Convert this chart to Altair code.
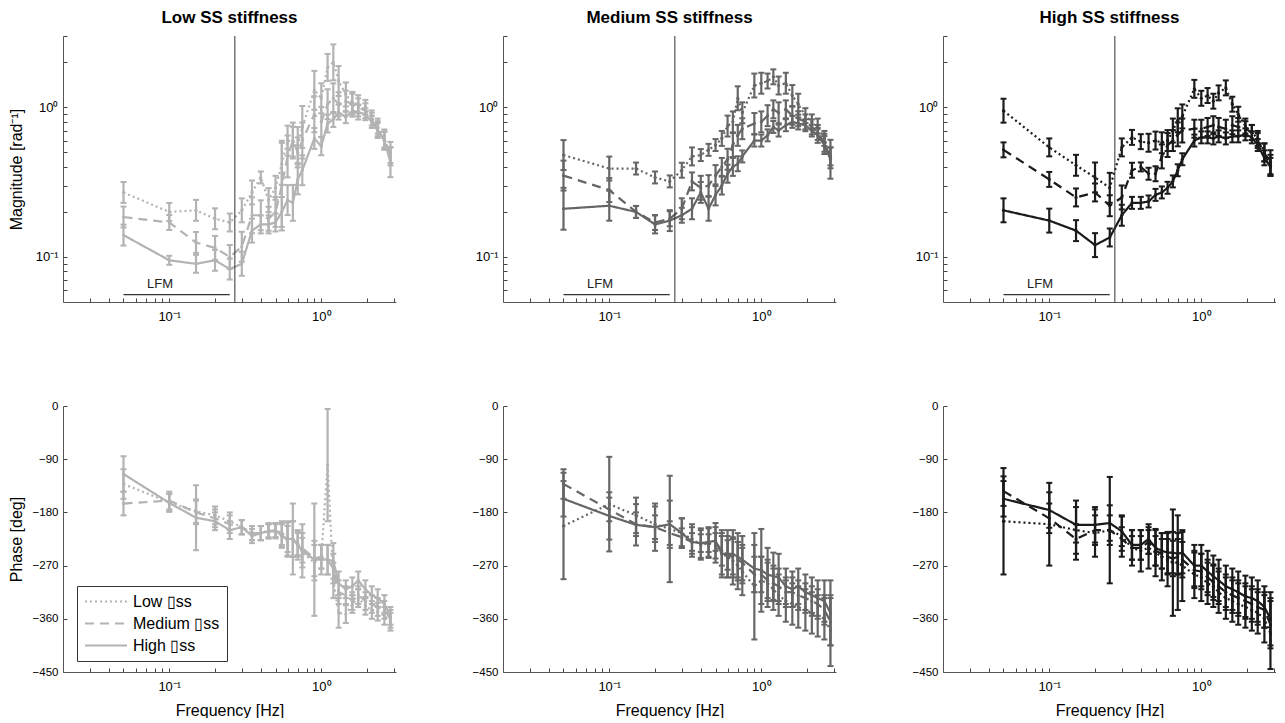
import altair as alt
import pandas as pd

# ---------------- data ----------------
FREQ = [0.05, 0.1, 0.15, 0.2, 0.25, 0.3, 0.35, 0.4, 0.45, 0.5, 0.55, 0.6, 0.65, 0.7, 0.75,
        0.9, 1.0, 1.1, 1.2, 1.3, 1.45, 1.6, 1.75, 1.95, 2.15, 2.35, 2.6, 2.85]
SERIES = ["Low \u25afss", "Medium \u25afss", "High \u25afss"]
PANEL_TITLES = ["Low SS stiffness", "Medium SS stiffness", "High SS stiffness"]
PANEL_COLORS = ["#b3b3b3", "#666666", "#1a1a1a"]

X_TICKS = [0.03, 0.04, 0.05, 0.06, 0.07, 0.08, 0.09, 0.1, 0.2, 0.3, 0.4, 0.5, 0.6, 0.7,
           0.8, 0.9, 1.0, 2.0, 3.0]
MAG_TICKS = [0.06, 0.07, 0.08, 0.09, 0.1, 0.2, 0.3, 0.4, 0.5, 0.6, 0.7, 0.8, 0.9, 1.0, 2.0, 3.0]
PHASE_TICKS = [0, -90, -180, -270, -360, -450]
X_DOMAIN = [0.02, 3.1]
MAG_DOMAIN = [0.05, 3.0]
PHASE_DOMAIN = [-450, 0]
VLINE_FREQ = [0.27]
LFM_START = [0.05]
LFM_END = [0.25]
LFM_LEVEL = [0.056]
LFM_TEXT_FREQ = [0.087]
LFM_TEXT_LEVEL = [0.066]
LFM_TEXT = ["LFM"]

# magnitude means (rad^-1) and log10 half-widths of error bars
MAG1_LOW = [0.27, 0.20, 0.205, 0.18, 0.17, 0.205, 0.27, 0.34, 0.24, 0.29, 0.42, 0.60, 0.59, 0.56, 0.74, 1.30, 1.15, 1.85, 2.00, 1.50, 1.22, 1.08, 1.05, 1.00, 0.85, 0.75, 0.62, 0.47]
MAG1_MED = [0.185, 0.17, 0.125, 0.115, 0.10, 0.117, 0.19, 0.19, 0.18, 0.20, 0.30, 0.47, 0.60, 0.50, 0.60, 0.90, 0.80, 1.05, 1.15, 1.05, 1.10, 1.05, 1.00, 0.95, 0.82, 0.72, 0.60, 0.50]
MAG1_HIGH = [0.14, 0.095, 0.09, 0.095, 0.083, 0.09, 0.15, 0.165, 0.165, 0.17, 0.20, 0.24, 0.23, 0.33, 0.38, 0.62, 0.55, 0.78, 0.83, 0.93, 0.86, 0.95, 0.93, 0.90, 0.80, 0.70, 0.60, 0.43]
MAG1_LOW_ERR = [0.07, 0.06, 0.07, 0.07, 0.06, 0.08, 0.08, 0.04, 0.08, 0.08, 0.14, 0.10, 0.10, 0.12, 0.14, 0.13, 0.10, 0.09, 0.12, 0.10, 0.08, 0.07, 0.06, 0.05, 0.05, 0.05, 0.06, 0.06]
MAG1_MED_ERR = [0.07, 0.05, 0.07, 0.08, 0.08, 0.10, 0.12, 0.10, 0.08, 0.10, 0.30, 0.14, 0.12, 0.10, 0.12, 0.12, 0.10, 0.10, 0.10, 0.08, 0.07, 0.07, 0.06, 0.05, 0.05, 0.05, 0.06, 0.07]
MAG1_HIGH_ERR = [0.07, 0.03, 0.06, 0.07, 0.07, 0.08, 0.08, 0.06, 0.06, 0.06, 0.10, 0.10, 0.12, 0.10, 0.10, 0.07, 0.06, 0.06, 0.05, 0.05, 0.04, 0.04, 0.05, 0.04, 0.04, 0.05, 0.06, 0.10]

MAG2_LOW = [0.48, 0.39, 0.39, 0.34, 0.32, 0.38, 0.47, 0.48, 0.52, 0.56, 0.62, 0.75, 0.80, 1.15, 0.92, 1.40, 1.45, 1.50, 1.60, 1.40, 1.45, 1.20, 1.05, 0.88, 0.80, 0.75, 0.62, 0.47]
MAG2_MED = [0.35, 0.28, 0.20, 0.17, 0.18, 0.21, 0.32, 0.29, 0.30, 0.35, 0.40, 0.45, 0.56, 0.65, 0.72, 0.78, 0.80, 0.88, 0.97, 0.92, 0.97, 0.88, 0.84, 0.80, 0.74, 0.68, 0.58, 0.46]
MAG2_HIGH = [0.21, 0.22, 0.20, 0.165, 0.175, 0.19, 0.21, 0.27, 0.21, 0.26, 0.30, 0.36, 0.40, 0.42, 0.47, 0.60, 0.60, 0.65, 0.74, 0.70, 0.76, 0.80, 0.78, 0.76, 0.70, 0.65, 0.56, 0.45]
MAG2_LOW_ERR = [0.10, 0.08, 0.04, 0.04, 0.04, 0.05, 0.06, 0.04, 0.04, 0.04, 0.05, 0.07, 0.07, 0.08, 0.07, 0.08, 0.07, 0.05, 0.05, 0.06, 0.07, 0.07, 0.07, 0.05, 0.05, 0.05, 0.05, 0.06]
MAG2_MED_ERR = [0.10, 0.08, 0.04, 0.05, 0.05, 0.07, 0.06, 0.08, 0.07, 0.07, 0.06, 0.07, 0.08, 0.07, 0.07, 0.07, 0.07, 0.07, 0.06, 0.07, 0.06, 0.06, 0.05, 0.05, 0.05, 0.05, 0.06, 0.07]
MAG2_HIGH_ERR = [0.14, 0.10, 0.04, 0.06, 0.07, 0.05, 0.07, 0.07, 0.08, 0.07, 0.06, 0.06, 0.06, 0.05, 0.04, 0.04, 0.04, 0.04, 0.04, 0.04, 0.04, 0.04, 0.04, 0.04, 0.04, 0.05, 0.06, 0.13]

MAG3_LOW = [0.95, 0.54, 0.41, 0.34, 0.29, 0.54, 0.63, 0.59, 0.58, 0.60, 0.58, 0.60, 0.70, 0.82, 0.87, 1.33, 1.15, 1.20, 1.10, 1.25, 1.35, 1.05, 0.90, 0.75, 0.68, 0.62, 0.50, 0.43]
MAG3_MED = [0.52, 0.33, 0.25, 0.27, 0.22, 0.25, 0.38, 0.40, 0.36, 0.36, 0.47, 0.56, 0.60, 0.66, 0.70, 0.72, 0.72, 0.74, 0.76, 0.74, 0.72, 0.76, 0.74, 0.72, 0.68, 0.60, 0.50, 0.41]
MAG3_HIGH = [0.205, 0.175, 0.15, 0.12, 0.135, 0.19, 0.23, 0.23, 0.235, 0.26, 0.27, 0.29, 0.32, 0.38, 0.45, 0.60, 0.63, 0.63, 0.62, 0.64, 0.62, 0.64, 0.64, 0.66, 0.63, 0.56, 0.46, 0.40]
MAG3_LOW_ERR = [0.08, 0.06, 0.07, 0.10, 0.10, 0.06, 0.05, 0.05, 0.06, 0.06, 0.07, 0.07, 0.08, 0.08, 0.08, 0.06, 0.05, 0.05, 0.05, 0.05, 0.05, 0.05, 0.05, 0.05, 0.05, 0.05, 0.06, 0.08]
MAG3_MED_ERR = [0.05, 0.05, 0.06, 0.06, 0.07, 0.08, 0.05, 0.03, 0.04, 0.05, 0.08, 0.08, 0.07, 0.08, 0.08, 0.06, 0.06, 0.06, 0.06, 0.06, 0.06, 0.06, 0.06, 0.05, 0.05, 0.05, 0.06, 0.07]
MAG3_HIGH_ERR = [0.08, 0.08, 0.07, 0.08, 0.06, 0.07, 0.04, 0.04, 0.04, 0.04, 0.04, 0.04, 0.04, 0.04, 0.04, 0.04, 0.04, 0.04, 0.04, 0.04, 0.04, 0.04, 0.04, 0.04, 0.04, 0.04, 0.05, 0.06]

# phase means (deg) and half-widths of error bars (deg)
PH1_LOW = [-132, -163, -178, -185, -195, -205, -215, -215, -210, -210, -215, -222, -225, -232, -248, -265, -255, -100, -295, -350, -352, -335, -325, -338, -345, -348, -355, -365]
PH1_MED = [-165, -160, -180, -190, -200, -205, -215, -215, -212, -212, -218, -228, -225, -235, -240, -258, -255, -260, -275, -315, -320, -330, -320, -330, -335, -340, -345, -360]
PH1_HIGH = [-115, -164, -189, -195, -210, -205, -220, -215, -212, -210, -220, -225, -225, -235, -245, -260, -260, -260, -262, -300, -310, -305, -295, -310, -320, -325, -335, -355]
PH1_LOW_ERR = [25, 15, 20, 15, 15, 12, 12, 12, 12, 12, 20, 25, 30, 20, 25, 30, 20, 95, 30, 25, 15, 15, 15, 15, 15, 15, 15, 15]
PH1_MED_ERR = [20, 15, 20, 15, 15, 12, 12, 12, 12, 12, 20, 25, 30, 20, 25, 30, 20, 25, 25, 20, 15, 15, 15, 15, 15, 15, 15, 15]
PH1_HIGH_ERR = [30, 15, 55, 15, 15, 12, 12, 12, 12, 12, 20, 30, 60, 25, 45, 95, 25, 25, 30, 20, 15, 15, 15, 15, 15, 15, 15, 15]

PH2_LOW = [-203, -166, -185, -200, -208, -215, -225, -235, -232, -235, -250, -255, -262, -270, -280, -305, -295, -300, -310, -320, -330, -335, -340, -345, -350, -355, -360, -380]
PH2_MED = [-132, -175, -200, -205, -215, -222, -230, -232, -232, -230, -245, -252, -255, -260, -265, -285, -285, -295, -300, -305, -315, -315, -320, -325, -330, -335, -345, -365]
PH2_HIGH = [-157, -186, -201, -205, -200, -215, -230, -232, -230, -228, -250, -250, -250, -255, -260, -275, -278, -285, -288, -290, -305, -310, -305, -315, -320, -325, -330, -350]
PH2_LOW_ERR = [90, 80, 30, 30, 90, 25, 25, 25, 25, 30, 35, 35, 40, 40, 40, 90, 40, 40, 35, 35, 35, 35, 35, 35, 35, 35, 35, 60]
PH2_MED_ERR = [25, 20, 20, 20, 20, 15, 15, 15, 15, 15, 25, 25, 30, 30, 30, 30, 30, 30, 30, 30, 25, 25, 25, 25, 25, 25, 25, 40]
PH2_HIGH_ERR = [30, 40, 35, 40, 40, 25, 25, 25, 25, 30, 40, 40, 40, 40, 40, 40, 70, 45, 40, 40, 30, 30, 30, 30, 30, 30, 35, 55]

PH3_LOW = [-195, -200, -210, -215, -210, -220, -240, -245, -240, -248, -255, -260, -265, -265, -270, -285, -290, -300, -305, -315, -325, -330, -335, -340, -345, -350, -360, -385]
PH3_MED = [-144, -190, -225, -210, -210, -225, -240, -240, -230, -245, -250, -255, -258, -255, -260, -278, -280, -290, -298, -305, -315, -320, -325, -330, -335, -340, -345, -370]
PH3_HIGH = [-157, -176, -201, -201, -198, -212, -235, -235, -225, -240, -245, -248, -248, -250, -248, -270, -270, -280, -288, -295, -305, -310, -315, -322, -325, -330, -340, -360]
PH3_LOW_ERR = [90, 70, 50, 40, 90, 35, 30, 35, 35, 40, 40, 45, 90, 80, 60, 40, 40, 35, 35, 35, 35, 35, 35, 35, 35, 35, 40, 60]
PH3_MED_ERR = [25, 25, 25, 25, 25, 20, 20, 20, 20, 25, 25, 30, 30, 30, 30, 30, 30, 30, 30, 30, 30, 30, 30, 30, 30, 30, 30, 40]
PH3_HIGH_ERR = [30, 30, 30, 30, 30, 25, 25, 25, 25, 30, 30, 35, 35, 35, 35, 35, 35, 35, 35, 35, 35, 35, 35, 35, 35, 35, 35, 45]

FONT = "Liberation Sans"
PANEL_W = 333
PANEL_H = 266
TICK_LEN = 4
LOG_LABEL = "datum.value == 0.1 ? '10\u207b\u00b9' : (datum.value == 1 ? '10\u2070' : '')"


def build_frame(means, errs, kind):
    rows = []
    for s, m_list, e_list in zip(SERIES, means, errs):
        for f, m, e in zip(FREQ, m_list, e_list):
            if kind == "mag":
                lo, hi = m / (10 ** e), m * (10 ** e)
            else:
                lo, hi = m - e, min(m + e, 0)
            rows.append({"freq": f, "series": s, "mean": m, "lo": lo, "hi": hi})
    return pd.DataFrame(rows)


def make_panel(df, color, kind, col):
    # inward tick marks: grid lines dashed so that only a few px next to the axis line show
    x_axis = dict(values=X_TICKS, labelExpr=LOG_LABEL, labelOverlap=False,
                  ticks=False, grid=True, gridDash=[0, PANEL_H - TICK_LEN, TICK_LEN, 3000],
                  gridColor="#444444", gridWidth=1, gridOpacity=1,
                  labelPadding=8, labelFontSize=13,
                  titlePadding=9, titleFontSize=16, titleFontWeight="normal")
    x_kwargs = dict(scale=alt.Scale(type="log", domain=X_DOMAIN, nice=False))
    if kind == "phase":
        x_kwargs["title"] = "Frequency [Hz]"
    else:
        x_kwargs["title"] = None
    x = alt.X("freq:Q", axis=alt.Axis(**x_axis), **x_kwargs)

    if kind == "mag":
        y_scale = alt.Scale(type="log", domain=MAG_DOMAIN, nice=False)
        y_axis = dict(values=MAG_TICKS, labelExpr=LOG_LABEL, labelFontSize=13, labelFlush=True)
        y_title = "Magnitude [rad\u207b\u00b9]"
    else:
        y_scale = alt.Scale(domain=PHASE_DOMAIN, nice=False, zero=False)
        y_axis = dict(values=PHASE_TICKS, labelFontSize=11.5)
        y_title = "Phase [deg]"
    y_axis.update(dict(ticks=False, grid=True, gridDash=[TICK_LEN, 3000],
                       gridColor="#444444", gridWidth=1, gridOpacity=1,
                       labelOverlap=False, labelPadding=5,
                       minExtent=30, maxExtent=30, titlePadding=9, titleFontSize=16,
                       titleFontWeight="normal"))
    y_kwargs = dict(scale=y_scale, title=(y_title if col == 0 else None))
    y_mean = alt.Y("mean:Q", axis=alt.Axis(**y_axis), **y_kwargs)

    if kind == "phase" and col == 0:
        legend = alt.Legend(orient="none", legendX=14, legendY=180, title=None,
                            symbolType="stroke", symbolSize=1764, symbolStrokeWidth=2,
                            symbolStrokeColor=color, labelFontSize=16, labelFont=FONT,
                            labelColor="#000", strokeColor="#333", fillColor="white",
                            padding=7, rowPadding=5, clipHeight=17, labelOffset=5)
    else:
        legend = None
    dash = alt.StrokeDash("series:N",
                          scale=alt.Scale(domain=SERIES, range=[[2, 3], [9, 6], [1, 0]]),
                          legend=legend)

    base = alt.Chart(df)
    line = base.mark_line(color=color, strokeWidth=2.2).encode(x=x, y=y_mean, strokeDash=dash,
                                                                 detail="series:N")
    bars = base.mark_rule(color=color, strokeWidth=2.2).encode(x="freq:Q", y="lo:Q", y2="hi:Q")
    cap_lo = base.mark_rule(color=color, strokeWidth=2, xOffset=-3, x2Offset=3).encode(
        x="freq:Q", x2="freq:Q", y="lo:Q")
    cap_hi = base.mark_rule(color=color, strokeWidth=2, xOffset=-3, x2Offset=3).encode(
        x="freq:Q", x2="freq:Q", y="hi:Q")
    dots = base.mark_point(color=color, filled=True, size=10, opacity=1).encode(
        x="freq:Q", y="mean:Q")
    layers = [line, bars, cap_lo, cap_hi, dots]

    if kind == "mag":
        vline = alt.Chart(pd.DataFrame({"f": VLINE_FREQ})).mark_rule(
            color="#333333", strokeWidth=1).encode(x="f:Q")
        lfm = alt.Chart(pd.DataFrame({"a": LFM_START, "b": LFM_END, "y": LFM_LEVEL})).mark_rule(
            color="#333333", strokeWidth=1.2).encode(x="a:Q", x2="b:Q", y="y:Q")
        lfm_txt = alt.Chart(pd.DataFrame({"f": LFM_TEXT_FREQ, "y": LFM_TEXT_LEVEL, "t": LFM_TEXT})
                            ).mark_text(font=FONT, fontSize=13, color="#222222").encode(
            x="f:Q", y="y:Q", text="t:N")
        layers += [vline, lfm, lfm_txt]

    chart = alt.layer(*layers).properties(width=PANEL_W, height=PANEL_H,
                                          view=alt.ViewBackground(stroke="transparent",
                                                                  strokeWidth=0))
    if kind == "mag":
        chart = chart.properties(title=alt.TitleParams(PANEL_TITLES[col], fontSize=17,
                                                       fontWeight="bold", font=FONT,
                                                       offset=9, anchor="middle",
                                                       frame="group", color="#000"))
    return chart


mag_sets = [
    ([MAG1_LOW, MAG1_MED, MAG1_HIGH], [MAG1_LOW_ERR, MAG1_MED_ERR, MAG1_HIGH_ERR]),
    ([MAG2_LOW, MAG2_MED, MAG2_HIGH], [MAG2_LOW_ERR, MAG2_MED_ERR, MAG2_HIGH_ERR]),
    ([MAG3_LOW, MAG3_MED, MAG3_HIGH], [MAG3_LOW_ERR, MAG3_MED_ERR, MAG3_HIGH_ERR]),
]
ph_sets = [
    ([PH1_LOW, PH1_MED, PH1_HIGH], [PH1_LOW_ERR, PH1_MED_ERR, PH1_HIGH_ERR]),
    ([PH2_LOW, PH2_MED, PH2_HIGH], [PH2_LOW_ERR, PH2_MED_ERR, PH2_HIGH_ERR]),
    ([PH3_LOW, PH3_MED, PH3_HIGH], [PH3_LOW_ERR, PH3_MED_ERR, PH3_HIGH_ERR]),
]

panels = []
for c in range(3):
    panels.append(make_panel(build_frame(*mag_sets[c], "mag"), PANEL_COLORS[c], "mag", c))
for c in range(3):
    panels.append(make_panel(build_frame(*ph_sets[c], "phase"), PANEL_COLORS[c], "phase", c))

chart = alt.concat(*panels, columns=3, spacing={"row": 104, "column": 107}, bounds="flush"
                   ).resolve_scale(strokeDash="independent").properties(padding=0)

chart = chart.configure_view(stroke="transparent", strokeWidth=0).configure(font=FONT).configure_axis(
    domainColor="#555555", domainWidth=1, labelColor="#000000", titleColor="#000000",
    labelFont=FONT, titleFont=FONT)

chart.save("out.html", embed_options={"renderer": "svg", "actions": False})
